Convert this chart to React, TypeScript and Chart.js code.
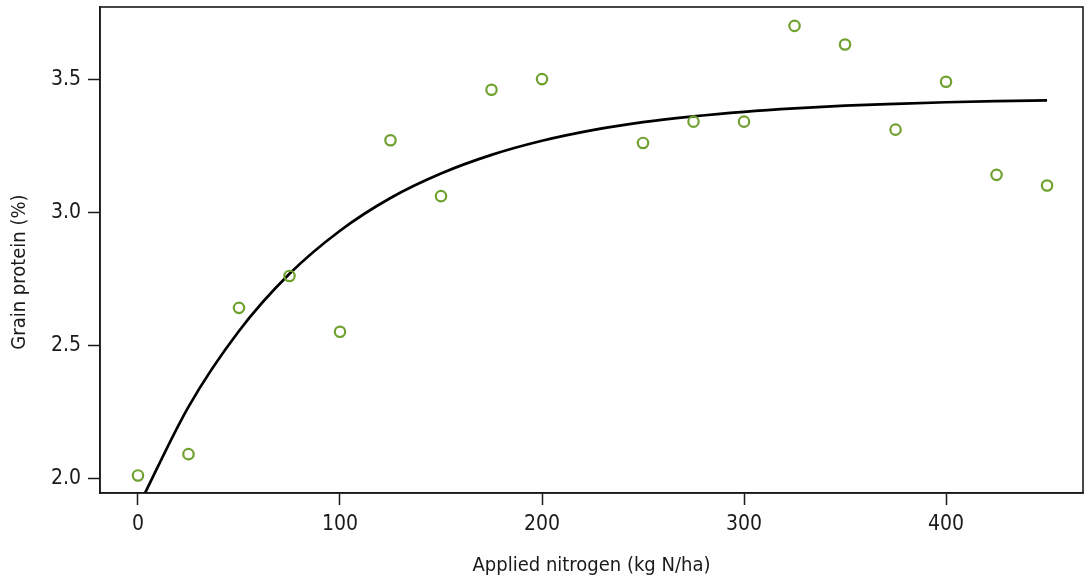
import React, { useEffect, useRef } from "react";
import { Chart, registerables } from "chart.js";

Chart.register(...registerables);

// Observed grain protein at each nitrogen rate
const nitrogenRates = [0, 25, 50, 75, 100, 125, 150, 175, 200, 250, 275, 300, 325, 350, 375, 400, 425, 450];
const proteinValues = [2.01, 2.09, 2.64, 2.76, 2.55, 3.27, 3.06, 3.46, 3.5, 3.26, 3.34, 3.34, 3.7, 3.63, 3.31, 3.49, 3.14, 3.1];

// Fitted response curve, sampled along the nitrogen range
const curveRates = [0, 25, 50, 75, 100, 125, 150, 175, 200, 225, 250, 275, 300, 325, 350, 375, 400, 425, 450];
const curveValues = [1.89, 2.268, 2.553, 2.768, 2.93, 3.053, 3.145, 3.215, 3.268, 3.308, 3.338, 3.36, 3.377, 3.39, 3.4, 3.407, 3.413, 3.417, 3.42];

// Axis tick positions
const xTicks = [0, 100, 200, 300, 400];
const yTicks = [2.0, 2.5, 3.0, 3.5];

const yTitle = "Grain protein (%)";

const FONT = "'Liberation Sans Narrow', 'DejaVu Sans Condensed', sans-serif";
const INK = "#1a1a1a";

// Closed frame around the plotting region plus the vertical axis title
const frame = {
  id: "frame",
  afterDatasetsDraw(chart: any) {
    const { ctx, chartArea } = chart;
    ctx.save();
    ctx.strokeStyle = INK;
    ctx.lineWidth = 1.6;
    ctx.strokeRect(chartArea.left, chartArea.top, chartArea.right - chartArea.left, chartArea.bottom - chartArea.top);
    ctx.translate(20, 272);
    ctx.rotate(-Math.PI / 2);
    ctx.fillStyle = INK;
    ctx.font = `20px ${FONT}`;
    ctx.textAlign = "center";
    ctx.textBaseline = "middle";
    ctx.fillText(yTitle, 0, 0);
    ctx.restore();
  },
};

export default function App() {
  const canvasRef = useRef<HTMLCanvasElement | null>(null);

  useEffect(() => {
    if (!canvasRef.current) return;
    const chart = new Chart(canvasRef.current, {
      type: "scatter",
      data: {
        datasets: [
          {
            type: "line",
            label: "Fitted",
            data: curveRates.map((x, i) => ({ x, y: curveValues[i] })),
            borderColor: "#000000",
            borderWidth: 2.7,
            pointRadius: 0,
            fill: false,
            cubicInterpolationMode: "monotone",
            clip: 0,
            order: 2,
          } as any,
          {
            label: "Observed",
            data: nitrogenRates.map((x, i) => ({ x, y: proteinValues[i] })),
            borderColor: "#6fa12e",
            backgroundColor: "rgba(0,0,0,0)",
            borderWidth: 2.2,
            pointRadius: 5.2,
            pointHoverRadius: 5.2,
            order: 1,
          },
        ],
      },
      options: {
        animation: false,
        responsive: false,
        maintainAspectRatio: false,
        layout: { autoPadding: false, padding: { top: 7, right: 5, left: 0, bottom: 0 } },
        plugins: { legend: { display: false }, tooltip: { enabled: false } },
        scales: {
          x: {
            type: "linear",
            min: -18.8,
            max: 467.8,
            afterBuildTicks: (s: any) => {
              s.ticks = xTicks.map((v) => ({ value: v }));
            },
            afterFit: (s: any) => {
              s.height = 86;
              s.paddingLeft = 0;
              s.paddingRight = 0;
            },
            grid: { drawOnChartArea: false, drawTicks: true, tickLength: 12, tickWidth: 1.5, tickColor: INK },
            border: { display: true, color: INK, width: 1.6 },
            ticks: { color: INK, font: { family: FONT, size: 21 }, padding: 7, maxRotation: 0, callback: (v: any) => String(v) },
            title: { display: true, text: "Applied nitrogen (kg N/ha)", color: INK, font: { family: FONT, size: 20 }, padding: { top: 4, bottom: 1 } },
          },
          y: {
            type: "linear",
            min: 1.944,
            max: 3.771,
            afterBuildTicks: (s: any) => {
              s.ticks = yTicks.map((v) => ({ value: v }));
            },
            afterFit: (s: any) => {
              s.width = 100;
              s.paddingTop = 0;
              s.paddingBottom = 0;
            },
            grid: { drawOnChartArea: false, drawTicks: true, tickLength: 12, tickWidth: 1.5, tickColor: INK },
            border: { display: true, color: INK, width: 1.6 },
            ticks: { color: INK, font: { family: FONT, size: 21 }, padding: 7, callback: (v: any) => Number(v).toFixed(1) },
          },
        },
      },
      plugins: [frame],
    });
    return () => chart.destroy();
  }, []);

  return (
    <div style={{ position: "fixed", left: 0, top: 0, width: 1088, height: 579, background: "#ffffff" }}>
      <canvas ref={canvasRef} width={1088} height={579} style={{ display: "block", width: 1088, height: 579 }} />
    </div>
  );
}
